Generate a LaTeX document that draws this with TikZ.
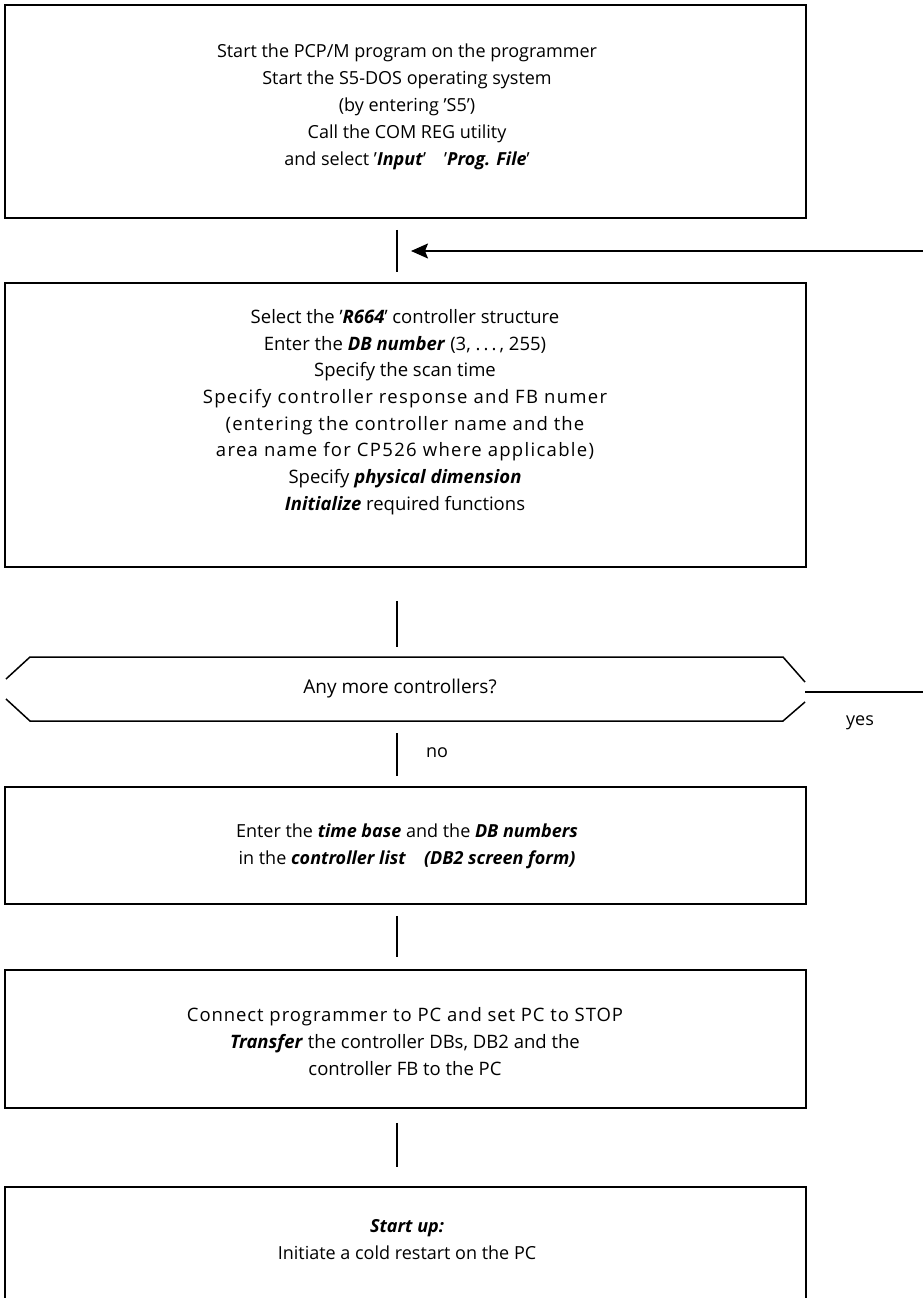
\documentclass[tikz,border=0pt]{standalone}
\usepackage{fontspec}
\setmainfont{Open Sans}
\usetikzlibrary{arrows.meta}
\newcommand{\bi}[1]{\textbf{\textit{#1}}}
\newcommand{\spaced}[2]{{\addfontfeature{LetterSpace=#1}#2}}
\begin{document}
\begin{tikzpicture}[x=1pt,y=-1pt,
  box/.style={draw,line width=1.5pt,inner sep=0pt,minimum width=801pt},
  txt/.style={align=center,inner sep=0pt,font=\fontsize{18}{27}\selectfont},
  flow/.style={line width=1.5pt},
  lbl/.style={inner sep=0pt,font=\fontsize{18}{24}\selectfont}]
\useasboundingbox (0,0) rectangle (923,1298);
\clip (0,0) rectangle (923,1298);

% process boxes
\node[box,minimum height=213pt] (b1) at (405.5,111.5) {};
\node[box,minimum height=284pt] (b2) at (405.5,425) {};
\node[box,minimum height=117pt] (b3) at (405.5,845.5) {};
\node[box,minimum height=138pt] (b4) at (405.5,1039) {};
\node[box,minimum height=130pt] (b5) at (405.5,1252) {};

% box texts
\node[txt] (t1) at (407,107) {Start the PCP/M program on the programmer\\
  Start the S5-DOS operating system\\
  (by entering 'S5')\\
  Call the COM REG utility\\
  and select '\bi{Input}'\quad '\bi{Prog. File}'};
\node[txt,font=\fontsize{18.5}{26.7}\selectfont] (t2) at (405,412)
  {Select the '\bi{R664}' controller structure\\
  Enter the \bi{DB number} (3, .\,.\,.\,, 255)\\
  Specify the scan time\\
  \spaced{7}{Specify controller response and FB numer}\\
  \spaced{6}{(entering the controller name and the}\\
  \spaced{7}{area name for CP526 where applicable)}\\
  Specify \bi{physical dimension}\\
  \bi{Initialize} required functions};
\node[txt] (t3) at (407,846)
  {Enter the \bi{time base} and the \bi{DB numbers}\\
  in the \bi{controller list}\quad\bi{(DB2 screen form)}};
\node[txt,font=\fontsize{18.5}{27}\selectfont] (t4) at (405,1042)
  {\spaced{5}{Connect programmer to PC and set PC to STOP}\\
  \bi{Transfer} the controller DBs, DB2 and the\\
  controller FB to the PC};
\node[txt] (t5) at (407,1240) {\bi{Start up:}\\
  Initiate a cold restart on the PC};

% decision
\coordinate (dl1) at (6,679);
\coordinate (dl2) at (6,699);
\coordinate (dtl) at (30,657);
\coordinate (dbl) at (30,721);
\coordinate (dtr) at (783,657);
\coordinate (dbr) at (783,721);
\coordinate (dr1) at (805,682);
\coordinate (dr2) at (805,702);
\draw[flow] (dl1) -- (dtl) -- (dtr) -- (dr1);
\draw[flow] (dl2) -- (dbl) -- (dbr) -- (dr2);
\node[txt,font=\fontsize{19}{27}\selectfont] (dec) at (400,689)
  {Any more controllers?};
\coordinate (dr) at (805,692);

% connectors
\coordinate (ax) at (397,0);
\coordinate (j) at (397,251);
\draw[flow,shorten <=11pt,shorten >=10pt] (b1.south -| ax) -- (b2.north -| ax);
\draw[flow,shorten <=33pt,shorten >=10pt] (b2.south -| ax) -- (dtl -| ax);
\draw[flow,shorten <=12pt,shorten >=10pt] (dbl -| ax) -- (b3.north -| ax);
\draw[flow,shorten <=11pt,shorten >=12pt] (b3.south -| ax) -- (b4.north -| ax);
\draw[flow,shorten <=14pt,shorten >=19pt] (b4.south -| ax) -- (b5.north -| ax);
\draw[flow,-{Stealth[length=17pt,width=15pt,inset=3pt]},shorten >=14pt]
  (dr) -- (945,692) |- (j);

% branch labels
\node[lbl] (no) at (437,753) {no};
\node[lbl] (yes) at (860,723) {yes};
\end{tikzpicture}
\end{document}
